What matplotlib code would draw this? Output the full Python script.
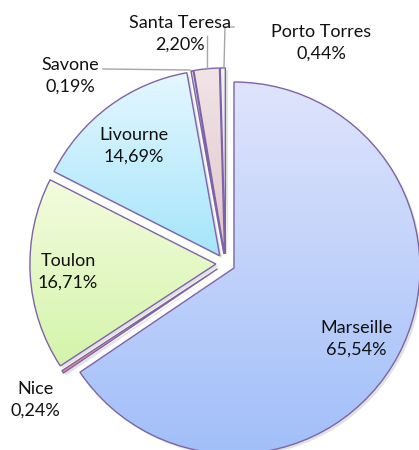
import matplotlib
matplotlib.use("Agg")
import matplotlib.pyplot as plt
import numpy as np
from matplotlib.patches import Wedge
from matplotlib.colors import LinearSegmentedColormap

plt.rcParams['font.family'] = ['Lato', 'DejaVu Sans']

# ---- data ----
ports = ["Marseille", "Nice", "Toulon", "Livourne", "Savone", "Santa Teresa", "Porto Torres"]
shares = [65.54, 0.24, 16.71, 14.69, 0.19, 2.20, 0.44]

# ---- styling ----
grad_top = ["#dfe4fc", "#f6c6cc", "#f3fcde", "#e4f7fe", "#e6e6e6", "#f1e4e7", "#f2f2f2"]
grad_bot = ["#a1bff9", "#ec8593", "#d4f4aa", "#a6e5fb", "#bdbdbd", "#e2c6cb", "#d8d8d8"]
edge = "#7d64a6"

W, H = 419, 450
fig = plt.figure(figsize=(W / 100, H / 100), dpi=100)
ax = fig.add_axes([0, 0, 1, 1])

cx, cy = 225.5, H - 263.5
R = 186
expl = 9.6  # explode offset in data units (pixels)

wedges, _ = ax.pie(shares, startangle=90, counterclock=False, radius=R,
                   center=(cx, cy), explode=[expl] * len(shares),
                   wedgeprops=dict(linewidth=1.0, edgecolor=edge), frame=True)

ax.set_xlim(0, W)
ax.set_ylim(0, H)
ax.set_aspect('equal')
ax.axis('off')

# shadows + gradient fills
for i, w in enumerate(wedges):
    c = w.center
    sh = Wedge((c[0] + 2.5, c[1] - 2.5), w.r, w.theta1, w.theta2,
               facecolor="#a0a0a0", edgecolor="none", alpha=0.3, zorder=1)
    ax.add_patch(sh)
    w.set_facecolor('none')
    w.set_zorder(3)
    path = w.get_path()
    verts = w.get_patch_transform().transform(path.vertices)
    x0, y0 = verts.min(axis=0)
    x1, y1 = verts.max(axis=0)
    cmap = LinearSegmentedColormap.from_list("g%d" % i, [grad_bot[i], grad_top[i]])
    grad = np.linspace(0, 1, 256).reshape(-1, 1)
    im = ax.imshow(grad, extent=(x0, x1, y0, y1), origin='lower', cmap=cmap,
                   aspect='auto', zorder=2, interpolation='bilinear')
    im.set_clip_path(w)

ax.set_xlim(0, W)
ax.set_ylim(0, H)

# labels
label_pos = {
    "Marseille": (356, 339),
    "Nice": (35, 400),
    "Toulon": (68, 272),
    "Livourne": (134, 146),
    "Savone": (70, 76),
    "Santa Teresa": (180, 34),
    "Porto Torres": (321, 43),
}
for name, v in zip(ports, shares):
    px, py = label_pos[name]
    txt = "%s\n%s%%" % (name, ("%.2f" % v).replace(".", ","))
    ax.text(px, H - py, txt, ha='center', va='center', fontsize=13,
            color="#111111", linespacing=1.42, zorder=5)

# leader lines
lc = "#a6a6a6"
ax.plot([103, 190], [H - 69, H - 70], color=lc, lw=1, zorder=4)
ax.plot([207, 207], [H - 36, H - 68], color=lc, lw=1, zorder=4)
ax.plot([224, 225, 234], [H - 67, H - 27, H - 27], color=lc, lw=1, zorder=4)

fig.savefig("out.png", dpi=100)
